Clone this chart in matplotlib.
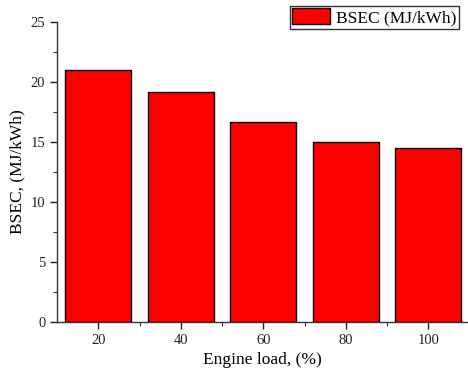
import matplotlib.pyplot as plt
from matplotlib.ticker import MultipleLocator, FixedLocator

loads = ['20', '40', '60', '80', '100']
bsec = [21.0, 19.2, 16.7, 15.0, 14.5]

plt.rcParams['font.family'] = 'Liberation Serif'

fig = plt.figure(figsize=(4.68, 3.73), dpi=100)
ax = fig.add_axes([0.122, 0.137, 0.876, 0.804])

x = list(range(len(loads)))
ax.bar(x, bsec, width=0.8, color='#ff0000', edgecolor='black', linewidth=1.0,
       label='BSEC (MJ/kWh)')

ax.set_xlim(-0.5, 4.47)
ax.set_ylim(0, 25)
ax.set_xticks(x)
ax.set_xticklabels(loads)
ax.xaxis.set_minor_locator(FixedLocator([i + 0.5 for i in x]))
ax.yaxis.set_major_locator(MultipleLocator(5))
ax.yaxis.set_minor_locator(MultipleLocator(2.5))

ax.spines['top'].set_visible(False)
ax.spines['right'].set_visible(False)
for s in ['left', 'bottom']:
    ax.spines[s].set_linewidth(1.0)
    ax.spines[s].set_color('#333333')

ax.tick_params(which='major', direction='out', length=5, width=1, labelsize=10.5, colors='#222222')
ax.tick_params(which='minor', direction='out', length=3, width=0.8, colors='#333333')

ax.set_xlabel('Engine load, (%)', fontsize=12.5)
ax.set_ylabel('BSEC, (MJ/kWh)', fontsize=12.5)

leg = fig.legend(loc='upper right', bbox_to_anchor=(0.98, 0.985), fontsize=12.5,
                 frameon=True, fancybox=False, edgecolor='black',
                 handlelength=2.2, handleheight=1.0, borderpad=0.15,
                 handletextpad=0.3, borderaxespad=0)
leg.get_frame().set_linewidth(1.0)

fig.savefig('out.png', dpi=100)
